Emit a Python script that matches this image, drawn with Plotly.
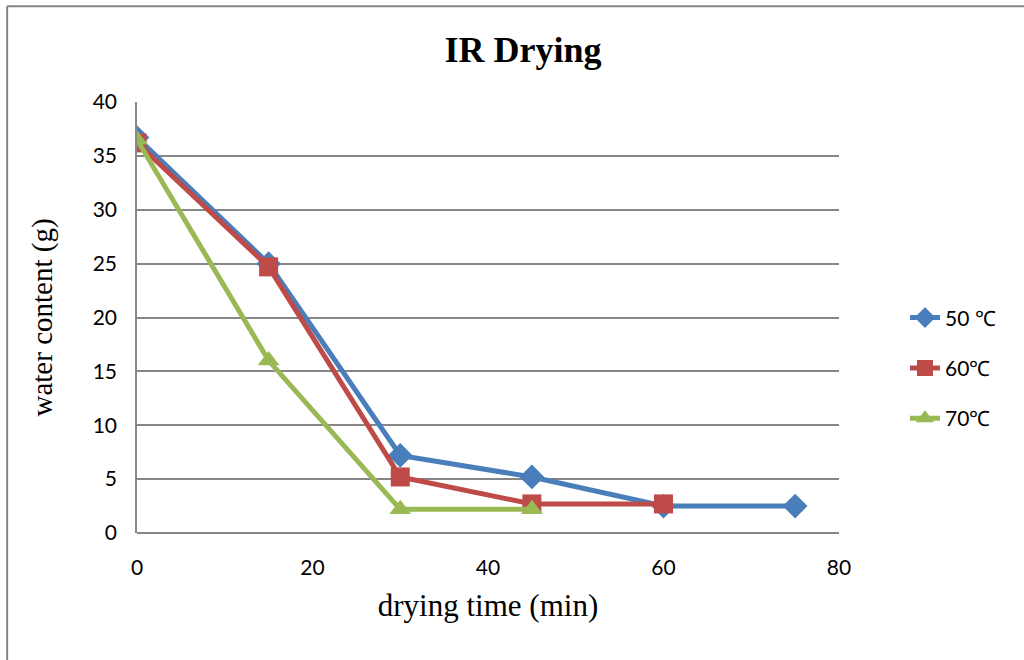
import plotly.graph_objects as go

time_50 = [0, 15, 30, 45, 60, 75]
water_50 = [36.7, 25.0, 7.2, 5.2, 2.5, 2.5]
time_60 = [0, 15, 30, 45, 60]
water_60 = [36.2, 24.7, 5.2, 2.7, 2.7]
time_70 = [0, 15, 30, 45]
water_70 = [36.5, 16.0, 2.2, 2.2]
labels = ["50 ℃", "60℃", "70℃"]

fig = go.Figure()
fig.add_trace(go.Scatter(x=time_50, y=water_50, name=labels[0], mode="lines+markers", legendgroup="a",
                         line=dict(color="#4A7EBB", width=5),
                         marker=dict(symbol="diamond", size=19, color="#4A7EBB")))
fig.add_trace(go.Scatter(x=time_60, y=water_60, name=labels[1], mode="lines+markers", legendgroup="b",
                         line=dict(color="#BE4B48", width=5),
                         marker=dict(symbol="square", size=19, color="#BE4B48")))
fig.add_trace(go.Scatter(x=time_70, y=water_70, name=labels[2], mode="lines+markers", legendgroup="c",
                         line=dict(color="#98B954", width=5),
                         marker=dict(symbol="triangle-up", size=19, color="#98B954")))

fig.update_layout(
    width=1024, height=660,
    margin=dict(l=137, r=185, t=102, b=127),
    paper_bgcolor="white", plot_bgcolor="white",
    title=dict(text="<b>IR Drying</b>", x=523/1024, xanchor="center", y=1-49/660, yanchor="middle",
               font=dict(family="Liberation Serif", size=36, color="black")),
    font=dict(family="Lato", size=21, color="black"),
    showlegend=True,
    legend=dict(x=1.094, y=0.383, xanchor="left", yanchor="middle",
                font=dict(family="Lato", size=21, color="black"),
                tracegroupgap=20, bgcolor="rgba(0,0,0,0)"),
    xaxis=dict(range=[0, 80], dtick=20, showgrid=False, zeroline=False,
               showline=False, ticks="", tickfont=dict(size=21), ticklabelstandoff=20,
               title=dict(text="drying time (min)", font=dict(family="Liberation Serif", size=31), standoff=16)),
    yaxis=dict(range=[0, 40], dtick=5, showgrid=True, gridcolor="#868686", gridwidth=1.5,
               zeroline=True, zerolinecolor="#868686", zerolinewidth=1.5,
               showline=True, linecolor="#868686", linewidth=1.5,
               ticks="", tickfont=dict(size=21), ticklabelstandoff=14,
               title=dict(text="water content (g)", font=dict(family="Liberation Serif", size=29), standoff=32)),
    shapes=[
        dict(type="line", xref="paper", yref="paper", x0=-0.185, x1=1.4, y0=1.222, y1=1.222,
             line=dict(color="#868686", width=2)),
        dict(type="line", xref="paper", yref="paper", x0=-0.185, x1=-0.185, y0=1.222, y1=-0.5,
             line=dict(color="#868686", width=2)),
    ],
)

fig.write_html("out.html")
